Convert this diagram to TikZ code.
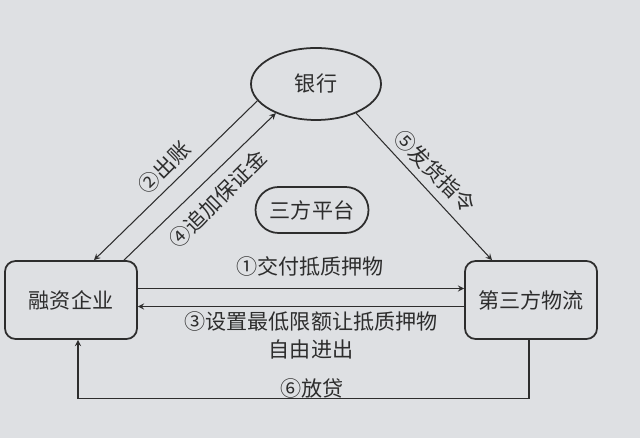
\documentclass[tikz,border=0pt]{standalone}
\usepackage{fontspec}
\usetikzlibrary{shapes.geometric}
\newfontfamily\cjk{Noto Sans CJK SC}
\definecolor{paper}{RGB}{222,224,227}
\definecolor{ink}{RGB}{45,45,45}
\tikzset{
  party/.style={draw=ink,line width=1pt,rounded corners=6pt,minimum width=2.64cm,minimum height=1.56cm},
  lbl/.style={text=ink,font=\cjk\fontsize{12}{12}\selectfont},
  flow/.style={draw=ink,line width=0.6pt,->}
}
\begin{document}
\begin{tikzpicture}[>=stealth]
  \fill[paper] (0,0) rectangle (12.8,8.76);
  \useasboundingbox (0,0) rectangle (12.8,8.76);
  \node[draw=ink,line width=1pt,ellipse,minimum width=2.6cm,minimum height=1.44cm,lbl] (bank) at (6.32,7.08) {银行};
  \node[draw=ink,line width=1pt,rounded corners=0.46cm,minimum width=2.26cm,minimum height=0.92cm,lbl] (platform) at (6.24,4.56) {三方平台};
  \node[party,lbl] (company) at (1.42,2.76) {融资企业};
  \node[party,lbl] (logistics) at (10.62,2.76) {第三方物流};
  \draw[flow] (bank.196) -- ([xshift=0.46cm]company.north);
  \draw[flow] ([xshift=1.06cm]company.north) -- (bank.216);
  \draw[flow] (bank.324) -- ([xshift=-0.78cm]logistics.north);
  \draw[flow] ([yshift=0.23cm]company.east) -- ([yshift=0.23cm]logistics.west);
  \draw[flow] ([yshift=-0.13cm]logistics.west) -- ([yshift=-0.13cm]company.east);
  \draw[flow] ([xshift=-0.04cm]logistics.south) -- ++(0,-1.18) -| ([xshift=0.14cm]company.south);
  \node[lbl,rotate=45] (out) at (3.28,5.42) {②出账};
  \node[lbl,rotate=45] (margin) at (4.36,4.78) {④追加保证金};
  \node[lbl,rotate=-45] (order) at (8.70,5.34) {⑤发货指令};
  \node[lbl] (deliver) at (6.20,3.44) {①交付抵质押物};
  \node[lbl,align=center] (limit) at (6.22,2.06) {③设置最低限额让抵质押物\\[4pt]自由进出};
  \node[lbl] (loan) at (6.24,1.0) {⑥放贷};
\end{tikzpicture}
\end{document}
